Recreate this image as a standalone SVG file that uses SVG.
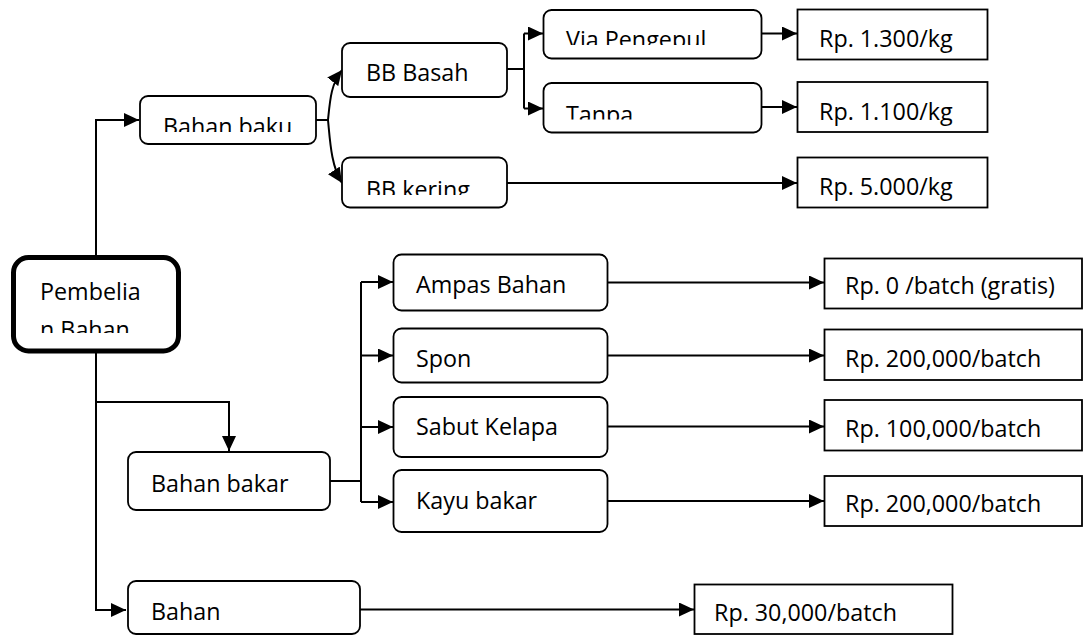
<svg xmlns="http://www.w3.org/2000/svg" width="1083" height="637" viewBox="0 0 1083 637">
<style>
text{font-family:"Open Sans","Liberation Sans",sans-serif;font-size:23.3px;fill:#000}
.rb{fill:#fff;stroke:#000;stroke-width:1.8}
.pb{fill:#fff;stroke:#000;stroke-width:1.8}
.c{fill:none;stroke:#000;stroke-width:2}
</style>
<defs>
<marker id="ah" markerUnits="userSpaceOnUse" markerWidth="15" markerHeight="14" viewBox="0 0 15 14" refX="15" refY="7" orient="auto">
<path d="M0,0 L15,7 L0,14 Z" fill="#000"/>
</marker>
<clipPath id="cBaku"><rect x="140" y="96" width="176" height="36"/></clipPath>
<clipPath id="cVia"><rect x="543" y="10" width="219" height="35"/></clipPath>
<clipPath id="cTanpa"><rect x="543" y="82" width="219" height="37.5"/></clipPath>
<clipPath id="cKering"><rect x="342" y="157" width="165" height="38"/></clipPath>
<clipPath id="cPemb"><rect x="13" y="257" width="165" height="76"/></clipPath>
</defs>

<g id="connectors">
<path class="c" d="M96,255 V120 H139" marker-end="url(#ah)"/>
<path class="c" d="M96,353 V610 H126" marker-end="url(#ah)"/>
<path class="c" d="M96,402 H229 V451" marker-end="url(#ah)"/>
<path class="c" d="M316,120 H328"/>
<path class="c" d="M328,120 C330,100 331,84 342,70" marker-end="url(#ah)"/>
<path class="c" d="M328,120 C330,140 331,166 342,183" marker-end="url(#ah)"/>
<path class="c" d="M507,69 H524"/>
<path class="c" d="M524,33.5 V108.5"/>
<path class="c" d="M524,33.5 H543" marker-end="url(#ah)"/>
<path class="c" d="M524,108.5 H543" marker-end="url(#ah)"/>
<path class="c" d="M762,33.5 H797" marker-end="url(#ah)"/>
<path class="c" d="M762,107 H797" marker-end="url(#ah)"/>
<path class="c" d="M507,183 H797" marker-end="url(#ah)"/>
<path class="c" d="M330,481 H361"/>
<path class="c" d="M361,282 V502"/>
<path class="c" d="M361,282 H393" marker-end="url(#ah)"/>
<path class="c" d="M361,355.5 H393" marker-end="url(#ah)"/>
<path class="c" d="M361,427 H393" marker-end="url(#ah)"/>
<path class="c" d="M361,502 H393" marker-end="url(#ah)"/>
<path class="c" d="M608,282.5 H824" marker-end="url(#ah)"/>
<path class="c" d="M608,355.5 H824" marker-end="url(#ah)"/>
<path class="c" d="M608,426.5 H824" marker-end="url(#ah)"/>
<path class="c" d="M608,501 H824" marker-end="url(#ah)"/>
<path class="c" d="M360,609.5 H694" marker-end="url(#ah)"/>
</g>

<g id="pembelian">
<rect x="13.5" y="257.5" width="165" height="93.5" rx="15" fill="#fff" stroke="#000" stroke-width="5"/>
<g clip-path="url(#cPemb)">
<text x="40" y="300">Pembelia</text>
<text x="40" y="338">n Bahan</text>
</g>
</g>

<g id="bahan-baku">
<rect class="rb" x="140" y="96" width="176" height="48" rx="8"/>
<text x="163" y="134.5" clip-path="url(#cBaku)">Bahan baku</text>
</g>

<g id="bb-basah">
<rect class="rb" x="342" y="43" width="165" height="54" rx="8"/>
<text x="366" y="81">BB Basah</text>
</g>

<g id="bb-kering">
<rect class="rb" x="342" y="157.5" width="165" height="50" rx="8"/>
<text x="366" y="198" clip-path="url(#cKering)">BB kering</text>
</g>

<g id="via-pengepul">
<rect class="rb" x="543.5" y="10" width="218" height="48.5" rx="8"/>
<text x="566" y="48" clip-path="url(#cVia)">Via Pengepul</text>
</g>

<g id="tanpa">
<rect class="rb" x="543.5" y="83" width="218" height="49.5" rx="8"/>
<text x="566" y="123" clip-path="url(#cTanpa)">Tanpa</text>
</g>

<g id="rp-1300">
<rect class="pb" x="797.5" y="9.5" width="190" height="50"/>
<text x="819" y="47">Rp. 1.300/kg</text>
</g>

<g id="rp-1100">
<rect class="pb" x="797.5" y="82" width="190" height="50"/>
<text x="819" y="120">Rp. 1.100/kg</text>
</g>

<g id="rp-5000">
<rect class="pb" x="797.5" y="157.5" width="190" height="50"/>
<text x="819" y="195">Rp. 5.000/kg</text>
</g>

<g id="bahan-bakar">
<rect class="rb" x="128" y="452" width="202" height="58" rx="8"/>
<text x="151" y="492">Bahan bakar</text>
</g>

<g id="ampas-bahan">
<rect class="rb" x="393.5" y="254.5" width="214" height="56" rx="8"/>
<text x="416" y="293">Ampas Bahan</text>
</g>

<g id="spon">
<rect class="rb" x="393.5" y="328.5" width="214" height="54" rx="8"/>
<text x="416" y="367">Spon</text>
</g>

<g id="sabut-kelapa">
<rect class="rb" x="393.5" y="397" width="214" height="60" rx="8"/>
<text x="416" y="435">Sabut Kelapa</text>
</g>

<g id="kayu-bakar">
<rect class="rb" x="393.5" y="470" width="214" height="62" rx="8"/>
<text x="416" y="508.5">Kayu bakar</text>
</g>

<g id="rp-0">
<rect class="pb" x="824.5" y="258.5" width="257.5" height="50"/>
<text x="845" y="294">Rp. 0 /batch (gratis)</text>
</g>

<g id="rp-200000-a">
<rect class="pb" x="824.5" y="329.5" width="257.5" height="50.5"/>
<text x="845" y="367">Rp. 200,000/batch</text>
</g>

<g id="rp-100000">
<rect class="pb" x="824.5" y="400" width="257.5" height="50.5"/>
<text x="845" y="437">Rp. 100,000/batch</text>
</g>

<g id="rp-200000-b">
<rect class="pb" x="824.5" y="476" width="257.5" height="50"/>
<text x="845" y="512">Rp. 200,000/batch</text>
</g>

<g id="bahan">
<rect class="rb" x="128" y="581" width="232" height="53" rx="8"/>
<text x="151" y="620">Bahan</text>
</g>

<g id="rp-30000">
<rect class="pb" x="694.5" y="584.5" width="258" height="49.5"/>
<text x="714" y="621">Rp. 30,000/batch</text>
</g>
</svg>
